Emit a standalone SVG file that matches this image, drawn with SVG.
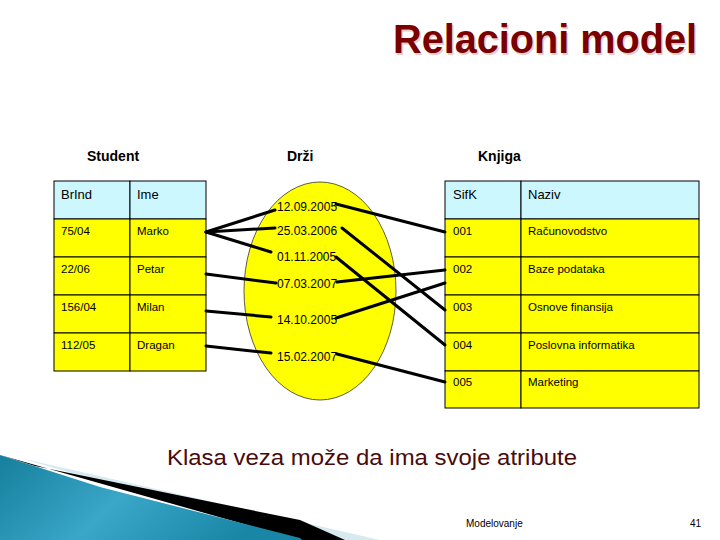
<svg xmlns="http://www.w3.org/2000/svg" width="720" height="540" viewBox="0 0 720 540">
<defs>
<style>
.t{font-family:"Liberation Sans",Arial,sans-serif;fill:#000}
.cell{font-size:11.5px}
.hdr{font-size:13px}
.lab{font-size:14px;font-weight:bold}
.date{font-size:12px}
.y{fill:#ffff00;stroke:#000;stroke-width:1}
.c{fill:#ccf7ff;stroke:#000;stroke-width:1}
.ln{stroke:#000;stroke-width:3;fill:none;stroke-linecap:round}
</style>
<linearGradient id="teal" x1="0" y1="0" x2="1" y2="0.3">
<stop offset="0" stop-color="#157f9c"/>
<stop offset="0.5" stop-color="#3aa6c8"/>
<stop offset="1" stop-color="#1a86a6"/>
</linearGradient>
</defs>
<rect width="720" height="540" fill="#fff"/>

<g id="decoration">
<polygon points="20,458 380,540 300,540" fill="#d6eaf0"/>
<polygon points="35,466 300,520 345,540 300,540 0,455" fill="#000"/>
<polygon points="0,455 100,487 300,538 302,540 0,540" fill="url(#teal)"/>
</g>

<g id="title">
<text class="t" x="393" y="53" font-size="40" font-weight="bold" fill="#dcb8b8" textLength="304" lengthAdjust="spacingAndGlyphs" style="fill:#e8cccc" dx="1.5" dy="1.5">Relacioni model</text>
<text class="t" x="393" y="53" font-size="40" font-weight="bold" textLength="304" lengthAdjust="spacingAndGlyphs" style="fill:#7a0000">Relacioni model</text>
</g>

<g id="labels">
<text class="t lab" x="87" y="161">Student</text>
<text class="t lab" x="287" y="161">Drži</text>
<text class="t lab" x="478" y="161">Knjiga</text>
</g>

<g id="student">
<rect class="c" x="54" y="181" width="76" height="38"/>
<rect class="c" x="130" y="181" width="76" height="38"/>
<rect class="y" x="54" y="219" width="76" height="38"/>
<rect class="y" x="130" y="219" width="76" height="38"/>
<rect class="y" x="54" y="257" width="76" height="38"/>
<rect class="y" x="130" y="257" width="76" height="38"/>
<rect class="y" x="54" y="295" width="76" height="38"/>
<rect class="y" x="130" y="295" width="76" height="38"/>
<rect class="y" x="54" y="333" width="76" height="38"/>
<rect class="y" x="130" y="333" width="76" height="38"/>
<text class="t hdr" x="61" y="199">BrInd</text>
<text class="t hdr" x="137" y="199">Ime</text>
<text class="t cell" x="61" y="235">75/04</text>
<text class="t cell" x="137" y="235">Marko</text>
<text class="t cell" x="61" y="273">22/06</text>
<text class="t cell" x="137" y="273">Petar</text>
<text class="t cell" x="61" y="311">156/04</text>
<text class="t cell" x="137" y="311">Milan</text>
<text class="t cell" x="61" y="349">112/05</text>
<text class="t cell" x="137" y="349">Dragan</text>
</g>

<g id="knjiga">
<rect class="c" x="445" y="181" width="76" height="38"/>
<rect class="c" x="521" y="181" width="178" height="38"/>
<rect class="y" x="445" y="219" width="76" height="38"/>
<rect class="y" x="521" y="219" width="178" height="38"/>
<rect class="y" x="445" y="257" width="76" height="38"/>
<rect class="y" x="521" y="257" width="178" height="38"/>
<rect class="y" x="445" y="295" width="76" height="38"/>
<rect class="y" x="521" y="295" width="178" height="38"/>
<rect class="y" x="445" y="333" width="76" height="38"/>
<rect class="y" x="521" y="333" width="178" height="38"/>
<rect class="y" x="445" y="371" width="76" height="37"/>
<rect class="y" x="521" y="371" width="178" height="37"/>
<text class="t hdr" x="453" y="199">SifK</text>
<text class="t hdr" x="528" y="199">Naziv</text>
<text class="t cell" x="453" y="235">001</text>
<text class="t cell" x="528" y="235">Računovodstvo</text>
<text class="t cell" x="453" y="273">002</text>
<text class="t cell" x="528" y="273">Baze podataka</text>
<text class="t cell" x="453" y="311">003</text>
<text class="t cell" x="528" y="311">Osnove finansija</text>
<text class="t cell" x="453" y="349">004</text>
<text class="t cell" x="528" y="349">Poslovna informatika</text>
<text class="t cell" x="453" y="386">005</text>
<text class="t cell" x="528" y="386">Marketing</text>
</g>

<g id="drzi">
<ellipse cx="320" cy="291" rx="76" ry="109" fill="#ffff00" stroke="#333" stroke-width="0.8"/>
</g>

<g id="connectors">
<line class="ln" x1="206" y1="232" x2="275" y2="210"/>
<line class="ln" x1="206" y1="232" x2="275" y2="228"/>
<line class="ln" x1="206" y1="232" x2="271" y2="252"/>
<line class="ln" x1="206" y1="274" x2="276" y2="283"/>
<line class="ln" x1="206" y1="311" x2="271" y2="317"/>
<line class="ln" x1="206" y1="346" x2="271" y2="353"/>
<line class="ln" x1="336" y1="204" x2="445" y2="232"/>
<line class="ln" x1="342" y1="228" x2="445" y2="310"/>
<line class="ln" x1="336" y1="257" x2="445" y2="345"/>
<line class="ln" x1="337" y1="282" x2="445" y2="270"/>
<line class="ln" x1="336" y1="318" x2="445" y2="283"/>
<line class="ln" x1="337" y1="354" x2="445" y2="382"/>
</g>

<g id="dates">
<text class="t date" x="277" y="211">12.09.2005</text>
<text class="t date" x="277" y="235">25.03.2006</text>
<text class="t date" x="277" y="261">01.11.2005</text>
<text class="t date" x="277" y="288">07.03.2007</text>
<text class="t date" x="277" y="324">14.10.2005</text>
<text class="t date" x="277" y="361">15.02.2007</text>
</g>

<g id="footer">
<text class="t" x="167" y="465" font-size="22" textLength="410" lengthAdjust="spacingAndGlyphs" style="fill:#4a0a0a">Klasa veza može da ima svoje atribute</text>
<text class="t" x="466" y="527" font-size="10">Modelovanje</text>
<text class="t" x="690" y="527" font-size="10">41</text>
</g>
</svg>
